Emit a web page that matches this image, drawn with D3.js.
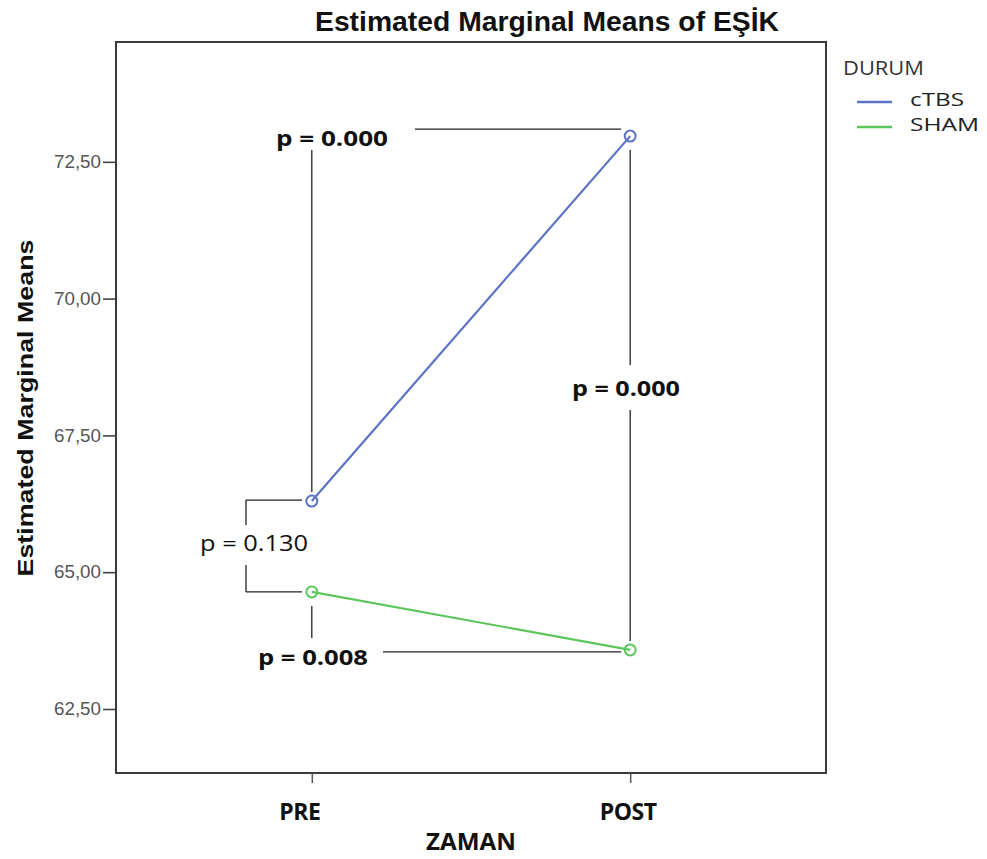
<!DOCTYPE html>
<html>
<head>
    <meta charset="utf-8">
    <title>Estimated Marginal Means of EŞİK</title>
    <script src="https://d3js.org/d3.v7.min.js"></script>
    <style>
        body { margin: 0; background: #fff; }
    </style>
</head>
<body>
    <svg width="987" height="859"></svg>

    <script>
        // Data
        var categories = ["PRE", "POST"];
        var groups = ["cTBS", "SHAM"];
        var ctbsValues = [66.30, 72.97];
        var shamValues = [64.64, 63.58];
        var yTicks = [62.5, 65, 67.5, 70, 72.5];
        var pLabels = ["p = 0.000", "p = 0.000", "p = 0.130", "p = 0.008"];

        var colors = {cTBS: "#5a73c5", SHAM: "#5cc65c"};

        // Plot frame
        var frame = {left: 116, right: 826, top: 42, bottom: 773};

        var svg = d3.select("svg");

        var x = d3.scalePoint()
            .domain(categories)
            .range([frame.left, frame.right])
            .padding(0.615);

        var y = d3.scaleLinear()
            .domain([61.33, 74.69])
            .range([frame.bottom, frame.top]);

        var fmt = function(d) { return d3.format(".2f")(d).replace(".", ","); };

        // Title
        svg.append("text")
            .attr("x", 547)
            .attr("y", 31)
            .attr("text-anchor", "middle")
            .attr("font-family", "Liberation Sans, Arial")
            .attr("font-weight", "bold")
            .attr("font-size", 28)
            .attr("textLength", 464)
            .attr("lengthAdjust", "spacingAndGlyphs")
            .attr("fill", "#111")
            .text("Estimated Marginal Means of EŞİK");

        // Frame
        svg.append("rect")
            .attr("x", frame.left)
            .attr("y", frame.top)
            .attr("width", frame.right - frame.left)
            .attr("height", frame.bottom - frame.top)
            .attr("fill", "none")
            .attr("stroke", "#3a3a3a")
            .attr("stroke-width", 2);

        // Y axis
        var yAxis = svg.append("g")
            .attr("transform", "translate(" + frame.left + ",0)")
            .call(d3.axisLeft(y).tickValues(yTicks).tickFormat(fmt).tickSize(13).tickPadding(2));
        yAxis.select(".domain").remove();
        yAxis.selectAll("line").attr("stroke", "#444").attr("stroke-width", 1.6);
        yAxis.selectAll("text")
            .attr("font-family", "Liberation Sans, Arial")
            .attr("font-size", 18)
            .attr("textLength", 47)
            .attr("lengthAdjust", "spacingAndGlyphs")
            .attr("fill", "#555");

        // X axis ticks and labels
        var xAxis = svg.append("g")
            .attr("transform", "translate(0," + frame.bottom + ")")
            .call(d3.axisBottom(x).tickSize(10).tickFormat(""));
        xAxis.select(".domain").remove();
        xAxis.selectAll("line").attr("stroke", "#555").attr("stroke-width", 1.5);

        var xLabelShift = [-12, -2];
        svg.selectAll(".xlab")
            .data(categories)
            .enter().append("text")
            .attr("class", "xlab")
            .attr("x", function(d, i) { return x(d) + xLabelShift[i]; })
            .attr("y", 820)
            .attr("text-anchor", "middle")
            .attr("font-family", "Open Sans, Noto Sans, Arial")
            .attr("font-weight", "bold")
            .attr("font-size", 23)
            .attr("letter-spacing", -0.5)
            .attr("fill", "#111")
            .text(function(d) { return d; });

        svg.append("text")
            .attr("x", 471)
            .attr("y", 850)
            .attr("text-anchor", "middle")
            .attr("font-family", "Open Sans, Noto Sans, Arial")
            .attr("font-weight", "bold")
            .attr("font-size", 23)
            .attr("textLength", 90)
            .attr("lengthAdjust", "spacingAndGlyphs")
            .attr("fill", "#111")
            .text("ZAMAN");

        // Y axis title
        svg.append("text")
            .attr("transform", "translate(33,408) rotate(-90)")
            .attr("text-anchor", "middle")
            .attr("font-family", "Liberation Sans, Arial")
            .attr("font-weight", "bold")
            .attr("font-size", 22)
            .attr("textLength", 337)
            .attr("lengthAdjust", "spacingAndGlyphs")
            .attr("fill", "#111")
            .text("Estimated Marginal Means");

        // Annotation lines (anchored to the data points)
        var pre = x("PRE"), post = x("POST");
        var ann = svg.append("g")
            .attr("stroke", "#222")
            .attr("stroke-width", 1.3)
            .attr("fill", "none");

        var segs = [
            // PRE vertical up from cTBS marker
            [pre, y(ctbsValues[0]) - 9, pre, 150],
            // top horizontal to POST cTBS
            [415, y(ctbsValues[1]) - 7, post - 9, y(ctbsValues[1]) - 7],
            // POST vertical (split around label)
            [post, y(ctbsValues[1]) + 14, post, 365],
            [post, 410, post, y(shamValues[1]) - 9],
            // bracket between groups at PRE
            [302, y(ctbsValues[0]) - 1, 246, y(ctbsValues[0]) - 1],
            [246, y(ctbsValues[0]) - 1, 246, 525],
            [246, 565, 246, y(shamValues[0])],
            [246, y(shamValues[0]), 302, y(shamValues[0])],
            // PRE vertical down from SHAM marker
            [pre, y(shamValues[0]) + 14, pre, 638],
            // bottom horizontal to POST SHAM
            [383, y(shamValues[1]) + 2, post - 9, y(shamValues[1]) + 2]
        ];
        ann.selectAll("line")
            .data(segs)
            .enter().append("line")
            .attr("x1", function(d) { return d[0]; })
            .attr("y1", function(d) { return d[1]; })
            .attr("x2", function(d) { return d[2]; })
            .attr("y2", function(d) { return d[3]; });

        // Series lines and markers
        var series = [
            {name: "cTBS", values: ctbsValues},
            {name: "SHAM", values: shamValues}
        ];
        var line = d3.line()
            .x(function(d, i) { return x(categories[i]); })
            .y(function(d) { return y(d); });

        series.forEach(function(s) {
            svg.append("path")
                .datum(s.values)
                .attr("d", line)
                .attr("fill", "none")
                .attr("stroke", colors[s.name])
                .attr("stroke-width", 2.2);
            svg.selectAll(".pt-" + s.name)
                .data(s.values)
                .enter().append("circle")
                .attr("cx", function(d, i) { return x(categories[i]); })
                .attr("cy", function(d) { return y(d); })
                .attr("r", 5.5)
                .attr("fill", "none")
                .attr("stroke", colors[s.name])
                .attr("stroke-width", 2);
        });

        // p-value labels
        var pFont = "Open Sans, Noto Sans, Arial";
        var pPos = [
            {x: 332, y: 146, bold: true, w: 112},
            {x: 626, y: 396, bold: true, w: 108},
            {x: 254, y: 551, bold: false, w: 108},
            {x: 313, y: 665, bold: true, w: 110}
        ];
        svg.selectAll(".plab")
            .data(pLabels)
            .enter().append("text")
            .attr("class", "plab")
            .attr("x", function(d, i) { return pPos[i].x; })
            .attr("y", function(d, i) { return pPos[i].y; })
            .attr("text-anchor", "middle")
            .attr("font-family", pFont)
            .attr("font-weight", function(d, i) { return pPos[i].bold ? "bold" : "normal"; })
            .attr("font-size", 22)
            .attr("textLength", function(d, i) { return pPos[i].w; })
            .attr("lengthAdjust", "spacingAndGlyphs")
            .attr("fill", "#111")
            .text(function(d) { return d; });

        // Legend
        var legend = svg.append("g").attr("font-family", "Open Sans, Noto Sans, Arial");
        legend.append("text")
            .attr("x", 843)
            .attr("y", 75)
            .attr("font-size", 20)
            .attr("textLength", 81)
            .attr("lengthAdjust", "spacingAndGlyphs")
            .attr("fill", "#333")
            .text("DURUM");
        var legendW = [54, 69];
        groups.forEach(function(g, i) {
            var ly = 102 + i * 25;
            legend.append("line")
                .attr("x1", 857).attr("x2", 892)
                .attr("y1", ly).attr("y2", ly)
                .attr("stroke", colors[g])
                .attr("stroke-width", 2.5);
            legend.append("text")
                .attr("x", 910)
                .attr("y", ly + 4)
                .attr("font-size", 19)
                .attr("textLength", legendW[i])
                .attr("lengthAdjust", "spacingAndGlyphs")
                .attr("fill", "#222")
                .text(g);
        });
    </script>
</body>
</html>
